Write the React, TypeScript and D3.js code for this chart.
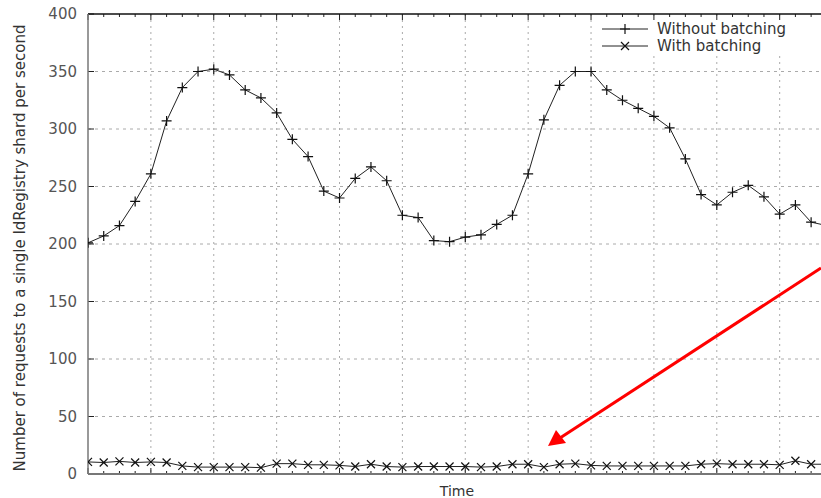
import React from "react";
import * as d3 from "d3";

// samples along the time axis (no tick labels on this axis)
const steps = d3.range(0, 48);

const withoutBatching = [
  201, 207, 216, 237, 261, 307, 336, 350, 352, 347, 334, 327, 314, 291, 276, 246,
  240, 257, 267, 255, 225, 223, 203, 202, 206, 208, 217, 225, 261, 308, 338, 350,
  350, 334, 325, 318, 311, 301, 274, 243, 234, 245, 251, 241, 226, 234, 219, 216,
];

const withBatching = [
  10.5, 10, 11, 10, 10.5, 10, 7, 6, 6, 6, 6, 5.5, 9, 9, 8, 8,
  7.5, 6.5, 8.5, 6.5, 6, 6.5, 6.5, 6.5, 6.5, 6, 6.5, 8.5, 8.5, 6, 8.5, 9,
  7.5, 7, 7, 7, 7, 7, 7, 8.5, 9, 8.5, 8.5, 8.5, 8, 11.5, 8.5, 8.5,
];

const yTicks = [0, 50, 100, 150, 200, 250, 300, 350, 400];
const legendLabels = ["Without batching", "With batching"];

const W = 821;
const H = 498;
const left = 88;
const top = 14;
const bottom = 474;

const App = () => {
  const x = d3.scaleLinear().domain([0, 48]).range([left, left + 48 * 15.72]);
  const y = d3.scaleLinear().domain([0, 400]).range([bottom, top]);

  const line = d3
    .line<number>()
    .x((d, i) => x(steps[i]))
    .y((d) => y(d));

  const majorX = d3.range(0, 49, 4);
  const minorX = d3.range(0, 49, 1);

  const plus = (cx: number, cy: number, k: string) => (
    <path key={k} d={`M${cx - 5},${cy}H${cx + 5}M${cx},${cy - 5}V${cy + 5}`} stroke="#111" strokeWidth={1.2} />
  );
  const cross = (cx: number, cy: number, k: string) => (
    <path
      key={k}
      d={`M${cx - 4},${cy - 4}L${cx + 4},${cy + 4}M${cx - 4},${cy + 4}L${cx + 4},${cy - 4}`}
      stroke="#111"
      strokeWidth={1.2}
    />
  );

  const font = "'DejaVu Sans', sans-serif";

  return (
    <div style={{ position: "absolute", left: 0, top: 0 }}>
      <svg width={W} height={H} style={{ display: "block", background: "#fff" }}>
        <defs>
          <clipPath id="plot">
            <rect x={left} y={0} width={W - left} height={bottom + 2} />
          </clipPath>
        </defs>

        {/* grid */}
        {majorX.slice(1).map((t) => (
          <line key={"gx" + t} x1={x(t)} x2={x(t)} y1={top} y2={bottom} stroke="#aaa" strokeDasharray="2,4" />
        ))}
        {yTicks.slice(1, -1).map((t) => (
          <line key={"gy" + t} x1={left} x2={W} y1={y(t)} y2={y(t)} stroke="#aaa" strokeDasharray="3,4" />
        ))}

        {/* ticks */}
        {minorX.map((t) => {
          const len = t % 4 === 0 ? 6 : 3;
          return (
            <g key={"tx" + t}>
              <line x1={x(t)} x2={x(t)} y1={bottom} y2={bottom - len} stroke="#222" />
              <line x1={x(t)} x2={x(t)} y1={top} y2={top + len} stroke="#222" />
            </g>
          );
        })}
        {yTicks.map((t) => (
          <line key={"ty" + t} x1={left} x2={left + 6} y1={y(t)} y2={y(t)} stroke="#222" />
        ))}

        {/* axes frame */}
        <line x1={left} x2={W} y1={top} y2={top} stroke="#111" strokeWidth={1.5} />
        <line x1={left} x2={W} y1={bottom} y2={bottom} stroke="#777" strokeWidth={2} />
        <line x1={left} x2={left} y1={top} y2={bottom} stroke="#777" strokeWidth={1.5} />

        {/* tick labels */}
        {yTicks.map((t) => (
          <text
            key={"yl" + t}
            x={77}
            y={y(t)}
            dy="0.36em"
            textAnchor="end"
            fontFamily={font}
            fontSize={15}
            fill="#555"
          >
            {t}
          </text>
        ))}

        <text
          transform={`translate(20,248) rotate(-90)`}
          textAnchor="middle"
          dy="0.36em"
          fontFamily={font}
          fontSize={15}
          fill="#333"
        >
          Number of requests to a single IdRegistry shard per second
        </text>
        <text x={457} y={496} textAnchor="middle" fontFamily={font} fontSize={14} fill="#333">
          Time
        </text>

        {/* series */}
        <g clipPath="url(#plot)">
          <path d={line(withoutBatching) || ""} fill="none" stroke="#222" strokeWidth={1} />
          <path d={line(withBatching) || ""} fill="none" stroke="#222" strokeWidth={1} />
          {withoutBatching.map((v, i) => plus(x(steps[i]), y(v), "p" + i))}
          {withBatching.map((v, i) => cross(x(steps[i]), y(v), "c" + i))}
        </g>

        {/* legend */}
        <rect x={596} y={20} width={225} height={34} fill="#fff" />
        {legendLabels.map((lbl, i) => {
          const ly = 29 + i * 17;
          return (
            <g key={lbl}>
              <line x1={602} x2={648} y1={ly} y2={ly} stroke="#222" />
              {i === 0 ? plus(625, ly, "lp") : cross(625, ly, "lc")}
              <text x={657} y={ly} dy="0.36em" fontFamily={font} fontSize={15} fill="#333">
                {lbl}
              </text>
            </g>
          );
        })}

        {/* red annotation arrow */}
        <line x1={821} y1={268} x2={560} y2={438} stroke="#f00" strokeWidth={3} />
        <path d="M548,446 L556,430 L566,443 Z" fill="#f00" />
      </svg>
    </div>
  );
};

export default App;
